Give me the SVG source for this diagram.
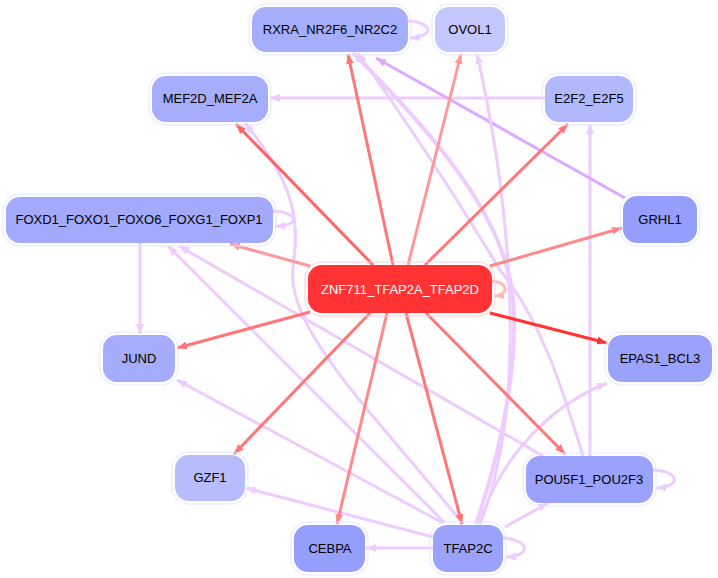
<svg xmlns="http://www.w3.org/2000/svg" width="718" height="578" viewBox="0 0 718 578">
<style>
.n rect.o{fill:none;stroke:#e4e6ff;stroke-width:1}
.n rect.f{stroke:none}
.n text{font-family:"Liberation Sans",Arial,sans-serif;font-size:13px;text-anchor:middle;fill:#000}
#edges path{fill:none;stroke-width:3}
.ra{stroke:#ff6666}.rb{stroke:#ff7777}.rc{stroke:#ff8888}.rd{stroke:#ff9999}.re{stroke:#ff3333}.rf{stroke:#ffbbbb}
.pa{stroke:#eeccff}.pb{stroke:#ddaaff}
</style>
<defs>
<marker id="ma" viewBox="0 0 10 8" refX="10" refY="4" markerWidth="10" markerHeight="8" markerUnits="userSpaceOnUse" orient="auto"><path d="M0,0L10,4L0,8z" fill="#ff6666"/></marker>
<marker id="mb" viewBox="0 0 10 8" refX="10" refY="4" markerWidth="10" markerHeight="8" markerUnits="userSpaceOnUse" orient="auto"><path d="M0,0L10,4L0,8z" fill="#ff7777"/></marker>
<marker id="mc" viewBox="0 0 10 8" refX="10" refY="4" markerWidth="10" markerHeight="8" markerUnits="userSpaceOnUse" orient="auto"><path d="M0,0L10,4L0,8z" fill="#ff8888"/></marker>
<marker id="md" viewBox="0 0 10 8" refX="10" refY="4" markerWidth="10" markerHeight="8" markerUnits="userSpaceOnUse" orient="auto"><path d="M0,0L10,4L0,8z" fill="#ff9999"/></marker>
<marker id="me" viewBox="0 0 10 8" refX="10" refY="4" markerWidth="10" markerHeight="8" markerUnits="userSpaceOnUse" orient="auto"><path d="M0,0L10,4L0,8z" fill="#ff3333"/></marker>
<marker id="mf" viewBox="0 0 10 8" refX="10" refY="4" markerWidth="10" markerHeight="8" markerUnits="userSpaceOnUse" orient="auto"><path d="M0,0L10,4L0,8z" fill="#ffbbbb"/></marker>
<marker id="mp" viewBox="0 0 10 8" refX="10" refY="4" markerWidth="10" markerHeight="8" markerUnits="userSpaceOnUse" orient="auto"><path d="M0,0L10,4L0,8z" fill="#eeccff"/></marker>
<marker id="mq" viewBox="0 0 10 8" refX="10" refY="4" markerWidth="10" markerHeight="8" markerUnits="userSpaceOnUse" orient="auto"><path d="M0,0L10,4L0,8z" fill="#ddaaff"/></marker>
</defs>
<rect width="718" height="578" fill="#fff"/>
<g id="edges">
<!-- purple edges -->
<path class="pa" d="M545,98L270,98" marker-end="url(#mp)"/>
<path class="pa" d="M590,456L590,124" marker-end="url(#mp)"/>
<path class="pb" d="M625,198L376,58" marker-end="url(#mq)"/>
<path class="pa" d="M408,21C432,22 436,36 410,38" marker-end="url(#mp)"/>
<path class="pa" d="M273,211C298,212 302,226 275,226" marker-end="url(#mp)"/>
<path class="pa" d="M140,243L140,334" marker-end="url(#mp)"/>
<path class="pa" d="M445,523L168,246" marker-end="url(#mp)"/>
<path class="pa" d="M543,456L179,246" marker-end="url(#mp)"/>
<path class="pa" d="M443,523L177,380" marker-end="url(#mp)"/>
<path class="pa" d="M433,537L246,488" marker-end="url(#mp)"/>
<path class="pa" d="M433,548L366,548" marker-end="url(#mp)"/>
<path class="pa" d="M463,524C380,420 285,330 293,268C298,225 300,190 245,123" marker-end="url(#mp)"/>
<path class="pa" d="M480,524C495,470 540,410 607,383" marker-end="url(#mp)"/>
<path class="pa" d="M505,527L548,503" marker-end="url(#mp)"/>
<path class="pa" d="M503,538C530,540 532,556 506,557" marker-end="url(#mp)"/>
<path class="pa" d="M653,470C680,471 682,487 656,488" marker-end="url(#mp)"/>
<path class="pa" d="M480,524C530,400 510,200 477,54" marker-end="url(#mp)"/>
<path class="pa" style="stroke-width:4" d="M476,524C505,440 520,350 512,290C500,210 430,130 353,53" marker-end="url(#mp)"/>
<path class="pa" d="M583,456C560,380 540,320 500,270C470,220 420,140 358,53" marker-end="url(#mp)"/>
<!-- red edges -->
<path class="rb" d="M393,265L348,54" marker-end="url(#mb)"/>
<path class="rd" d="M408,265L461,54" marker-end="url(#md)"/>
<path class="ra" d="M373,265L236,124" marker-end="url(#ma)"/>
<path class="rb" d="M425,265L568,124" marker-end="url(#mb)"/>
<path class="rd" d="M310,266L230,244" marker-end="url(#md)"/>
<path class="rc" d="M490,266L622,228" marker-end="url(#mc)"/>
<path class="rb" d="M310,312L177,348" marker-end="url(#mb)"/>
<path class="re" d="M490,313L607,343" marker-end="url(#me)"/>
<path class="rb" d="M370,313L234,454" marker-end="url(#mb)"/>
<path class="rc" d="M387,313L337,524" marker-end="url(#mc)"/>
<path class="rb" d="M406,313L462,524" marker-end="url(#mb)"/>
<path class="rb" d="M426,313L565,454" marker-end="url(#mb)"/>
<path class="rf" d="M492,281C508,282 510,295 494,296" marker-end="url(#mf)"/>
</g>
<g id="n_rxra" class="n"><rect class="o" x="249" y="4" width="162" height="51" rx="17"/><rect class="f" x="252" y="7" width="156" height="45" rx="14" fill="#a6adfb"/><text x="330" y="34">RXRA_NR2F6_NR2C2</text></g>
<g id="n_ovol1" class="n"><rect class="o" x="432" y="4" width="76" height="51" rx="17"/><rect class="f" x="435" y="7" width="70" height="45" rx="14" fill="#c4c7fd"/><text x="470" y="34">OVOL1</text></g>
<g id="n_mef2d" class="n"><rect class="o" x="149" y="73" width="122" height="52" rx="17"/><rect class="f" x="152" y="76" width="116" height="46" rx="14" fill="#a6adfb"/><text x="210" y="103">MEF2D_MEF2A</text></g>
<g id="n_e2f2" class="n"><rect class="o" x="542" y="73" width="94" height="52" rx="17"/><rect class="f" x="545" y="76" width="88" height="46" rx="14" fill="#b2b8fc"/><text x="589" y="103">E2F2_E2F5</text></g>
<g id="n_foxd1" class="n"><rect class="o" x="3" y="194" width="273" height="52" rx="17"/><rect class="f" x="6" y="197" width="267" height="46" rx="14" fill="#a3aafb"/><text x="139" y="224">FOXD1_FOXO1_FOXO6_FOXG1_FOXP1</text></g>
<g id="n_grhl1" class="n"><rect class="o" x="620" y="193" width="80" height="53" rx="17"/><rect class="f" x="623" y="196" width="74" height="47" rx="14" fill="#969efb"/><text x="660" y="224">GRHL1</text></g>
<g id="n_znf711" class="n"><rect x="305" y="262" width="190" height="54" rx="17" fill="none" stroke="#ffcccc" stroke-width="1"/><rect class="f" x="308" y="265" width="184" height="48" rx="14" fill="#ff3333"/><text x="400" y="294" style="fill:#fff">ZNF711_TFAP2A_TFAP2D</text></g>
<g id="n_jund" class="n"><rect class="o" x="100" y="332" width="78" height="53" rx="17"/><rect class="f" x="103" y="335" width="72" height="47" rx="14" fill="#a5acfb"/><text x="139" y="363">JUND</text></g>
<g id="n_epas1" class="n"><rect class="o" x="605" y="332" width="110" height="53" rx="17"/><rect class="f" x="608" y="335" width="104" height="47" rx="14" fill="#9aa2fb"/><text x="660" y="363">EPAS1_BCL3</text></g>
<g id="n_gzf1" class="n"><rect class="o" x="172" y="452" width="76" height="52" rx="17"/><rect class="f" x="175" y="455" width="70" height="46" rx="14" fill="#b7bcfc"/><text x="210" y="482">GZF1</text></g>
<g id="n_pou5f1" class="n"><rect class="o" x="523" y="453" width="133" height="53" rx="17"/><rect class="f" x="526" y="456" width="127" height="47" rx="14" fill="#9aa2fb"/><text x="589" y="484">POU5F1_POU2F3</text></g>
<g id="n_cebpa" class="n"><rect class="o" x="291" y="522" width="77" height="53" rx="17"/><rect class="f" x="294" y="525" width="71" height="47" rx="14" fill="#969efb"/><text x="330" y="553">CEBPA</text></g>
<g id="n_tfap2c" class="n"><rect class="o" x="430" y="522" width="76" height="53" rx="17"/><rect class="f" x="433" y="525" width="70" height="47" rx="14" fill="#9aa2fb"/><text x="468" y="553">TFAP2C</text></g>
</svg>
